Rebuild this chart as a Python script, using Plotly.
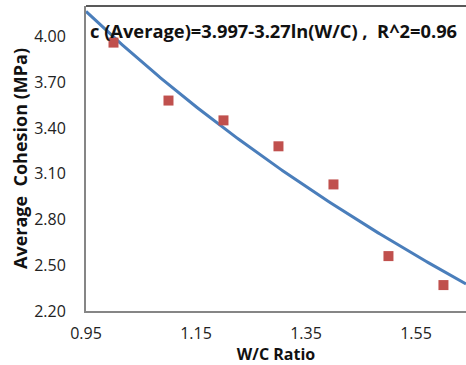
import numpy as np
import plotly.graph_objects as go

wc_ratio = [1.0, 1.1, 1.2, 1.3, 1.4, 1.5, 1.6]
avg_cohesion = [3.96, 3.58, 3.45, 3.28, 3.03, 2.56, 2.37]
fit_a = 3.997
fit_b = 3.27
fit_label = "c (Average)=3.997-3.27ln(W/C) ,  R^2=0.96"
x_ticks = [0.95, 1.15, 1.35, 1.55]
y_ticks = [2.20, 2.50, 2.80, 3.10, 3.40, 3.70, 4.00]
x_range = [0.95, 1.641]
y_range = [2.2, 4.2]

xf = np.linspace(x_range[0], x_range[1], 200)
yf = fit_a - fit_b * np.log(xf)

FONT = "Open Sans"
fig = go.Figure()
fig.add_trace(go.Scatter(x=xf, y=yf, mode="lines",
                         line=dict(color="#4A7EBB", width=3), showlegend=False))
fig.add_trace(go.Scatter(x=wc_ratio, y=avg_cohesion, mode="markers",
                         marker=dict(symbol="square", size=10, color="#C0504D"),
                         showlegend=False))

fig.update_layout(
    width=466, height=365,
    margin=dict(l=86, r=0, t=6, b=54),
    plot_bgcolor="white", paper_bgcolor="white",
    font=dict(family=FONT, size=16, color="#222"),
    xaxis=dict(range=x_range, tickvals=x_ticks, ticktext=[f"{v:.2f}" for v in x_ticks],
               showgrid=False, zeroline=False, showline=True, linecolor="#868686", linewidth=2,
               ticks="", ticklabelstandoff=7,
               title=dict(text="<b>W/C Ratio</b>", standoff=0, font=dict(size=16, color="#111"))),
    yaxis=dict(range=y_range, tickvals=y_ticks, ticktext=[f"{v:.2f}" for v in y_ticks],
               showgrid=False, zeroline=False, showline=True, linecolor="#868686", linewidth=2,
               ticks="", ticklabelstandoff=15,
               title=dict(text="<b>Average  Cohesion (MPa)</b>", standoff=2, font=dict(size=18, color="#111"))),
)
fig.add_shape(type="line", xref="paper", yref="paper", x0=0, x1=1, y0=1, y1=1,
              line=dict(color="#222", width=1.5))
fig.add_annotation(text="<b>" + fit_label + "</b>", xref="paper", yref="paper",
                   x=0.006, y=0.92, xanchor="left", yanchor="middle", showarrow=False,
                   font=dict(family=FONT, size=18.3, color="#111"))
fig.write_html("out.html")
